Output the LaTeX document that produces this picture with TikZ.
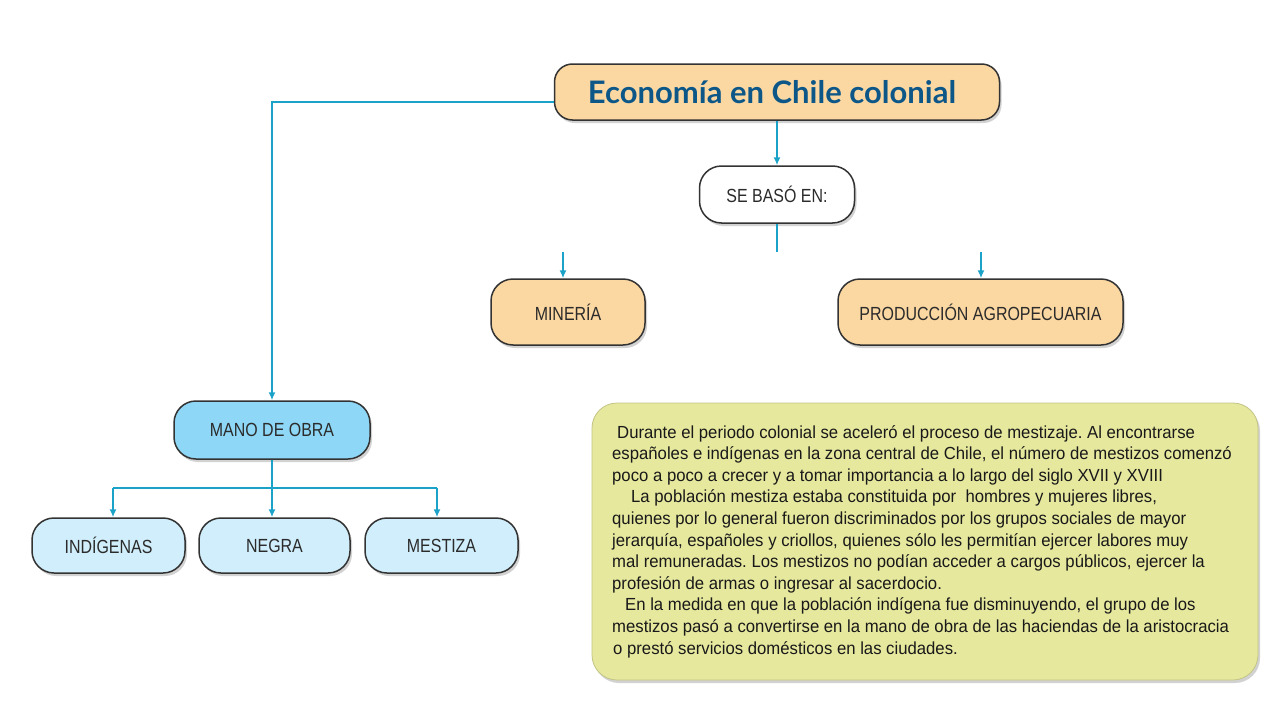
\documentclass[tikz,border=0pt]{standalone}
\usepackage{fontspec}
\setmainfont{Liberation Sans}
\newfontfamily\lblfont[FakeStretch=0.84]{Liberation Sans}
\newfontfamily\txtfont[FakeStretch=0.955]{Liberation Sans}
\newfontfamily\titlefont{Lato}
\usetikzlibrary{arrows.meta,shadows,positioning}
\definecolor{peach}{HTML}{FBD8A2}
\definecolor{midblue}{HTML}{8ED7F6}
\definecolor{paleblue}{HTML}{D0EEFB}
\definecolor{olivey}{HTML}{E6E89E}
\definecolor{conncol}{HTML}{1BA2C9}
\definecolor{titleblue}{HTML}{0D5788}
\definecolor{lbltext}{HTML}{2B2B2B}
\tikzset{
  shad/.style={drop shadow={opacity=0.35,shadow xshift=2pt,shadow yshift=-3pt}},
  pill/.style={draw=black!80,line width=1.5pt,rounded corners=22pt,shad,inner sep=0pt,
    font=\lblfont\fontsize{19}{22}\selectfont,text=lbltext},
  conn/.style={draw=conncol,line width=1.5pt},
  arr/.style={conn,-{Latex[length=8pt,width=7pt]}},
}
\begin{document}
\begin{tikzpicture}[x=1pt,y=-1pt]
\useasboundingbox[fill=white] (0,0) rectangle (1280,720);
% title
\node[pill,fill=peach,rounded corners=18pt,minimum width=445pt,minimum height=56pt,
  font=\titlefont\bfseries\fontsize{31}{34}\selectfont,text=titleblue] (title) at (777,92)
  {\hspace*{-10pt}Economía en Chile colonial};
\node[pill,fill=white,minimum width=155pt,minimum height=57pt] (se) at (777,194.5) {SE BASÓ EN:};
\node[pill,fill=peach,minimum width=154pt,minimum height=66pt] (min) at (568,312) {MINERÍA};
\node[pill,fill=peach,minimum width=285pt,minimum height=66pt] (prod) at (980.5,312) {PRODUCCIÓN AGROPECUARIA};
\node[pill,fill=midblue,minimum width=196pt,minimum height=58pt] (mano) at (272,430) {MANO DE OBRA};
\node[pill,fill=paleblue,minimum width=153pt,minimum height=55pt] (ind) at (108.5,545.5) {INDÍGENAS};
\node[pill,fill=paleblue,minimum width=151pt,minimum height=55pt] (neg) at (274.5,545.5) {NEGRA};
\node[pill,fill=paleblue,minimum width=153pt,minimum height=55pt] (mes) at (441.5,545.5) {MESTIZA};
% text box
\node[draw=olivey!85!black,line width=0.8pt,fill=olivey,rounded corners=25pt,shad,
  minimum width=666pt,minimum height=277pt] (tb) at (925,541.5) {};
\node[anchor=west,inner sep=0pt,align=left,
  font=\txtfont\frenchspacing\fontsize{17.5}{21.6}\selectfont,text=black!90] (body) at (612,541.5)
{\hspace*{5pt}Durante el periodo colonial se aceleró el proceso de mestizaje. Al encontrarse\\
españoles e indígenas en la zona central de Chile, el número de mestizos comenzó\\
poco a poco a crecer y a tomar importancia a lo largo del siglo XVII y XVIII\\
\hspace*{19pt}La población mestiza estaba constituida por \ hombres y mujeres libres,\\
quienes por lo general fueron discriminados por los grupos sociales de mayor\\
jerarquía, españoles y criollos, quienes sólo les permitían ejercer labores muy\\
mal remuneradas. Los mestizos no podían acceder a cargos públicos, ejercer la\\
profesión de armas o ingresar al sacerdocio.\\
\hspace*{13pt}En la medida en que la población indígena fue disminuyendo, el grupo de los\\
mestizos pasó a convertirse en la mano de obra de las haciendas de la aristocracia\\
\hspace*{1pt}o prestó servicios domésticos en las ciudades.};
% connectors
\draw[arr] (title.south) -- (se.north);
\coordinate (stub) at (777,252);
\draw[conn] (se.south) -- (stub);
\coordinate (ma) at (563,252);
\coordinate (pa) at (981,252);
\draw[arr] (ma) -- (ma |- min.north);
\draw[arr] (pa) -- (pa |- prod.north);
\draw[arr] ([yshift=-10pt]title.west) -| (mano.north);
\coordinate (jl) at (113,488);
\coordinate (jm) at (272,488);
\coordinate (jr) at (437,488);
\draw[conn] (mano.south) -- (jm);
\draw[conn] (jl) -- (jr);
\draw[arr] (jl) -- (jl |- ind.north);
\draw[arr] (jm) -- (jm |- neg.north);
\draw[arr] (jr) -- (jr |- mes.north);
\end{tikzpicture}
\end{document}
